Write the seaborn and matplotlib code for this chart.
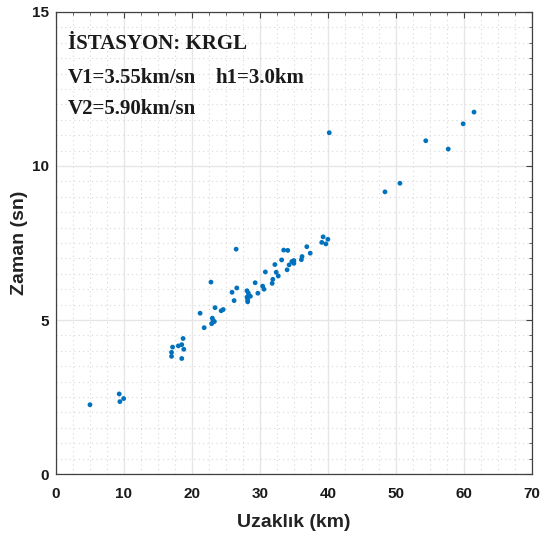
import matplotlib
matplotlib.use("Agg")
import matplotlib.pyplot as plt
import seaborn as sns
import pandas as pd
from matplotlib.ticker import MultipleLocator

distance_km = [5.0, 9.3, 9.4, 9.95, 17.0, 17.0, 17.15, 18.0, 18.5, 18.7, 18.8, 18.5,
               21.2, 21.8, 22.9, 23.1, 23.0, 23.3, 23.4, 24.3, 24.6, 22.8, 26.5,
               25.9, 26.2, 26.6, 28.1, 28.3, 28.1, 28.2, 28.2, 28.6, 29.3, 29.7,
               30.4, 30.6, 30.8, 31.8, 31.9, 32.4, 32.7, 32.2, 33.2, 33.5, 34.1,
               34.0, 34.3, 34.7, 35.0, 35.0, 36.1, 36.2, 36.9, 37.4, 39.1, 39.3,
               39.7, 40.0, 40.2, 48.4, 50.6, 54.4, 57.7, 59.9, 61.5]
time_sn = [2.25, 2.6, 2.35, 2.45, 3.95, 3.82, 4.12, 4.16, 4.2, 4.4, 4.05, 3.75,
           5.22, 4.75, 4.88, 4.98, 5.06, 4.95, 5.4, 5.3, 5.34, 6.23, 7.3,
           5.9, 5.63, 6.04, 5.95, 5.87, 5.74, 5.65, 5.59, 5.77, 6.21, 5.87,
           6.1, 6.0, 6.56, 6.19, 6.32, 6.55, 6.43, 6.8, 6.95, 7.27, 7.26,
           6.63, 6.79, 6.9, 6.93, 6.84, 6.96, 7.06, 7.38, 7.17, 7.52, 7.7,
           7.47, 7.62, 11.08, 9.16, 9.44, 10.82, 10.55, 11.37, 11.75]

station_text = "İSTASYON: KRGL"
v1_text = "V1=3.55km/sn"
h1_text = "h1=3.0km"
v2_text = "V2=5.90km/sn"
x_label = "Uzaklık (km)"
y_label = "Zaman (sn)"

df = pd.DataFrame({"x": distance_km, "y": time_sn})

sns.set_style("white")
plt.rcParams["font.family"] = ["Liberation Sans", "DejaVu Sans"]

fig = plt.figure(figsize=(5.41, 5.40), dpi=100)
ax = fig.add_axes([0.1035, 0.1222, 0.8795, 0.8556])

ax.set_xlim(0, 70)
ax.set_ylim(0, 15)
ax.xaxis.set_major_locator(MultipleLocator(10))
ax.xaxis.set_minor_locator(MultipleLocator(2.5))
ax.yaxis.set_major_locator(MultipleLocator(5))
ax.yaxis.set_minor_locator(MultipleLocator(0.5))
ax.grid(True, which="major", color="#e6e6e6", linewidth=1.0, linestyle="-")
ax.grid(True, which="minor", color="#d8d8d8", linewidth=0.8, linestyle=(0, (1, 3)))
ax.set_axisbelow(True)

sns.scatterplot(data=df, x="x", y="y", ax=ax, color="#0072BD", s=12,
                edgecolor="none", zorder=3, legend=False)

for sp in ax.spines.values():
    sp.set_color("#404040")
    sp.set_linewidth(0.9)
ax.tick_params(which="both", direction="in", top=True, right=True, colors="#404040",
               labelcolor="#1a1a1a")
ax.tick_params(which="major", length=4, labelsize=11)
ax.tick_params(which="minor", length=2)
ax.tick_params(axis="x", which="major", pad=9)
ax.tick_params(axis="y", which="major", pad=5)
for lbl in ax.get_xticklabels() + ax.get_yticklabels():
    lbl.set_fontweight("bold")

ax.set_xlabel(x_label, fontsize=14, fontweight="bold", color="#222222", labelpad=10)
ax.set_ylabel(y_label, fontsize=14, fontweight="bold", color="#222222", labelpad=3)

serif = ["Liberation Serif", "DejaVu Serif"]
ax.text(1.8, 13.95, station_text, fontsize=15, fontweight="bold", family=serif,
        color="#1a1a1a", va="center", ha="left")
ax.text(1.8, 12.85, v1_text, fontsize=15, fontweight="bold", family=serif,
        color="#1a1a1a", va="center", ha="left")
ax.text(23.5, 12.85, h1_text, fontsize=15, fontweight="bold", family=serif,
        color="#1a1a1a", va="center", ha="left")
ax.text(1.8, 11.85, v2_text, fontsize=15, fontweight="bold", family=serif,
        color="#1a1a1a", va="center", ha="left")

fig.savefig("out.png", dpi=100)
